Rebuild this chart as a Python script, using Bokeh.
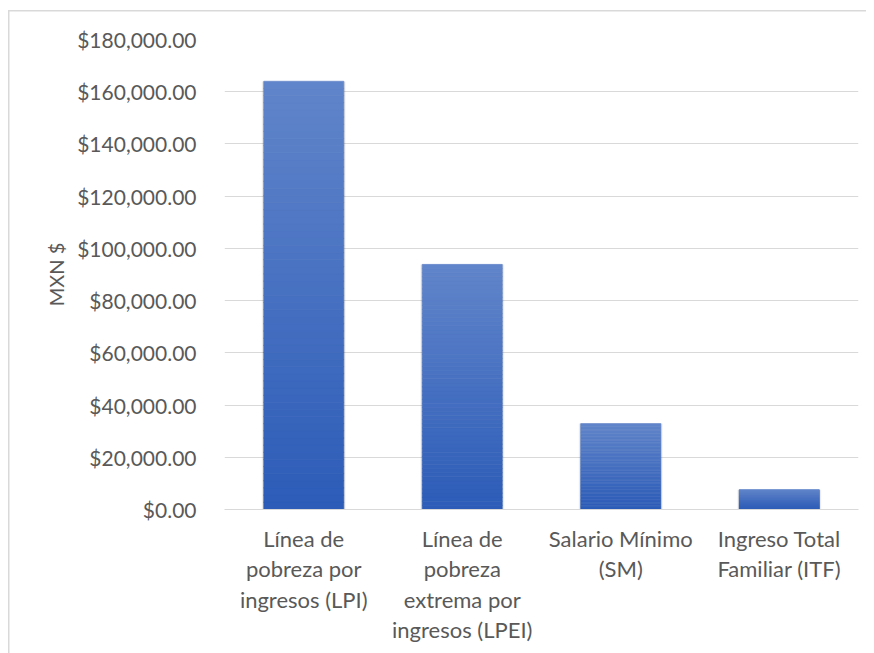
from bokeh.plotting import figure
from bokeh.models import FixedTicker, NumeralTickFormatter, ColumnDataSource
from bokeh.embed import file_html
from bokeh.resources import INLINE

categories = [
    "Línea de\npobreza por\ningresos (LPI)",
    "Línea de\npobreza\nextrema por\ningresos (LPEI)",
    "Salario Mínimo\n(SM)",
    "Ingreso Total\nFamiliar (ITF)",
]
values = [163900, 93800, 32900, 7600]
y_ticks = [0, 20000, 40000, 60000, 80000, 100000, 120000, 140000, 160000, 180000]

FONT = "Lato"
TXT = "#595959"
GRID = "#D9D9D9"
TOP_RGB = (0x61, 0x85, 0xCA)
BOT_RGB = (0x2C, 0x5C, 0xB8)

p = figure(
    x_range=categories, y_range=(0, 180000),
    width=866, height=653,
    output_backend="svg", toolbar_location=None,
    min_border_left=224, min_border_right=8,
    min_border_top=39, min_border_bottom=144,
)
p.outline_line_color = None
p.background_fill_color = "white"
p.border_fill_color = None
# chart-area border (left / top edges visible in the crop)
p.styles = {
    "background": (
        "linear-gradient(#D9D9D9,#D9D9D9) 8px 10px / 1.5px 100% no-repeat, "
        "linear-gradient(#D9D9D9,#D9D9D9) 8px 10px / 100% 1.5px no-repeat, white"
    )
}

# gradient bars: each bar split into stacked slices with interpolated colour
N = 60
xs, bots, tops, cols = [], [], [], []
for c, v in zip(categories, values):
    for i in range(N):
        f0, f1 = i / N, (i + 1) / N
        t = (f0 + f1) / 2  # 0 bottom -> 1 top
        rgb = tuple(int(round(BOT_RGB[k] + (TOP_RGB[k] - BOT_RGB[k]) * t)) for k in range(3))
        xs.append(c)
        bots.append(v * f0)
        tops.append(v * f1 + (v / N) * 0.05)
        cols.append("#%02x%02x%02x" % rgb)

# soft shadow
for w, a in [(0.53, 0.05), (0.52, 0.07), (0.512, 0.08)]:
    p.vbar(x=categories, top=values, bottom=0, width=w, fill_color="#000000",
           fill_alpha=a, line_color=None)

src = ColumnDataSource(dict(x=xs, bottom=bots, top=tops, color=cols))
p.vbar(x="x", bottom="bottom", top="top", width=0.505, fill_color="color",
       line_color="color", line_width=0.5, source=src)

p.ygrid.ticker = FixedTicker(ticks=y_ticks)
p.ygrid.grid_line_color = GRID
p.ygrid.grid_line_width = 1.2
p.xgrid.grid_line_color = None

yax = p.yaxis[0]
yax.ticker = FixedTicker(ticks=y_ticks)
yax.formatter = NumeralTickFormatter(format="$0,0.00")
yax.axis_line_color = None
yax.major_tick_line_color = None
yax.minor_tick_line_color = None
yax.major_label_text_font = FONT
yax.major_label_text_font_size = "21px"
yax.major_label_text_color = TXT
yax.major_label_standoff = 22
yax.axis_label = "MXN $"
yax.axis_label_text_font = FONT
yax.axis_label_text_font_size = "20px"
yax.axis_label_text_font_style = "normal"
yax.axis_label_text_color = TXT
yax.axis_label_standoff = 6

xax = p.xaxis[0]
xax.axis_line_color = GRID
xax.axis_line_width = 1.2
xax.major_tick_line_color = None
xax.minor_tick_line_color = None
xax.major_label_text_font = FONT
xax.major_label_text_font_size = "22px"
xax.major_label_text_color = TXT
xax.major_label_text_line_height = 1.13
xax.major_label_standoff = 9

open("out.html", "w").write(file_html(p, INLINE))
